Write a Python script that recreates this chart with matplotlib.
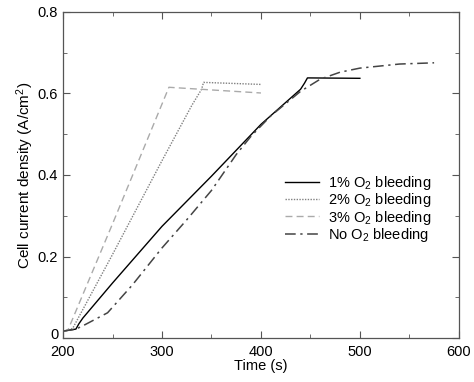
# libraries
import matplotlib
matplotlib.use('Agg')
import matplotlib.pyplot as plt
import matplotlib.transforms as mtransforms
from matplotlib.ticker import MultipleLocator

plt.rcParams['font.family'] = ['Liberation Sans', 'DejaVu Sans']
plt.rcParams['mathtext.default'] = 'regular'

# data
t_1 = [200, 213, 216, 220, 250, 300, 350, 400, 440, 444, 447, 500]
j_1 = [0.017, 0.022, 0.035, 0.049, 0.135, 0.274, 0.397, 0.524, 0.610, 0.625, 0.638, 0.637]

t_2 = [200, 207, 210, 250, 300, 330, 340, 342, 400]
j_2 = [0.017, 0.020, 0.025, 0.205, 0.435, 0.570, 0.610, 0.627, 0.622]

t_3 = [200, 205, 250, 307, 340, 400]
j_3 = [0.017, 0.020, 0.280, 0.615, 0.610, 0.601]

t_0 = [200, 213, 220, 245, 270, 300, 325, 350, 375, 390, 410, 440, 460, 480, 500, 540, 575]
j_0 = [0.017, 0.022, 0.030, 0.062, 0.130, 0.221, 0.290, 0.362, 0.450, 0.495, 0.545, 0.605, 0.635, 0.652, 0.662, 0.672, 0.675]

labels = ['1% O$_2$ bleeding', '2% O$_2$ bleeding', '3% O$_2$ bleeding', 'No O$_2$ bleeding']

fig = plt.figure(figsize=(4.74, 3.82), dpi=100)
ax = fig.add_axes([0.133, 0.115, 0.835, 0.854])

ax.plot(t_1, j_1, color='black', lw=1.0, ls='-', label=labels[0])
ax.plot(t_2, j_2, color='#808080', lw=1.0, ls=(0, (1, 1)), label=labels[1])
ax.plot(t_3, j_3, color='#aaaaaa', lw=1.0, ls=(0, (5, 3)), label=labels[2])
ax.plot(t_0, j_0, color='#444444', lw=1.1, ls=(0, (7, 3, 1.5, 3)), label=labels[3])

ax.set_xlim(200, 600)
ax.set_ylim(0, 0.8)
ax.xaxis.set_major_locator(MultipleLocator(100))
ax.xaxis.set_minor_locator(MultipleLocator(50))
ax.set_yticks([0, 0.2, 0.4, 0.6, 0.8])
ax.set_yticklabels(['0', '0.2', '0.4', '0.6', '0.8'])
ax.yaxis.set_minor_locator(MultipleLocator(0.1))
ax.tick_params(which='both', direction='in', top=True, right=True, labelsize=10.5, color='#555555')
ax.tick_params(which='major', length=5, width=0.8)
ax.tick_params(which='minor', length=3, width=0.6)
ax.tick_params(axis='x', pad=5)
for s in ax.spines.values():
    s.set_color('#555555')
    s.set_linewidth(0.9)

# nudge the "0" label up a little so it does not run into "200"
lab0 = ax.get_yticklabels()[0]
lab0.set_transform(lab0.get_transform() + mtransforms.ScaledTranslation(0, 3 / 72, fig.dpi_scale_trans))

ax.set_xlabel('Time (s)', fontsize=10.5, labelpad=0)
ax.set_ylabel('Cell current density (A/cm$^2$)', fontsize=11, labelpad=1)

ax.legend(loc='center left', bbox_to_anchor=(0.543, 0.396), frameon=False, fontsize=10.5,
          handlelength=2.3, handletextpad=0.6, labelspacing=-0.05, borderpad=0)

plt.savefig('out.png', dpi=100)
